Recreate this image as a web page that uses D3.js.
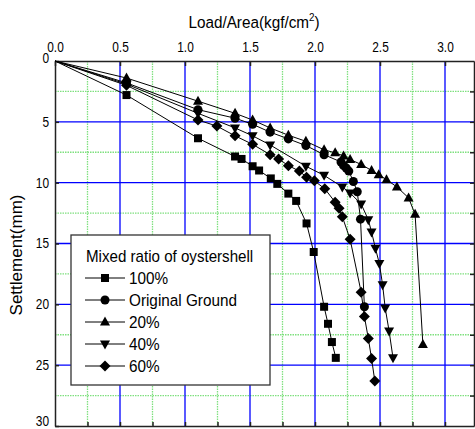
<!DOCTYPE html>
<html>
<head>
<meta charset="utf-8">
<script src="https://cdn.jsdelivr.net/npm/d3@7"></script>
<style>
    body { margin: 0; background: #fff; }
    text { font-family: "Liberation Sans", Arial, sans-serif; fill: #000; }
</style>
</head>
<body>
<div id="chart"></div>
<script>
// load (kgf/cm2) vs settlement (mm)
const load100 = [0, 0.55, 1.1, 1.385, 1.435, 1.52, 1.57, 1.66, 1.71, 1.795, 1.855, 1.935, 1.99, 2.07, 2.10, 2.13, 2.16];
const settle100 = [0, 2.8, 6.35, 7.85, 8.05, 8.65, 9.0, 9.65, 10.1, 10.9, 11.5, 13.35, 15.7, 20.2, 21.6, 23.1, 24.4];

const loadOrig = [0, 0.55, 1.1, 1.385, 1.52, 1.655, 1.795, 1.93, 2.07, 2.2, 2.22, 2.24, 2.26, 2.295, 2.325, 2.35, 2.38];
const settleOrig = [0, 1.8, 4.0, 4.7, 5.2, 5.85, 6.4, 6.95, 7.7, 8.3, 8.6, 8.8, 9.05, 9.9, 10.75, 13.0, 20.2];

const load20 = [0, 0.55, 1.1, 1.385, 1.52, 1.655, 1.795, 1.93, 2.07, 2.155, 2.22, 2.27, 2.355, 2.435, 2.49, 2.55, 2.63, 2.72, 2.77, 2.83];
const settle20 = [0, 1.4, 3.3, 4.3, 4.85, 5.5, 6.1, 6.6, 7.3, 7.55, 7.8, 8.1, 8.5, 9.0, 9.35, 9.75, 10.35, 11.25, 12.6, 23.3];

const load40 = [0, 0.55, 1.1, 1.385, 1.52, 1.655, 1.93, 2.07, 2.21, 2.27, 2.355, 2.41, 2.435, 2.465, 2.495, 2.52, 2.54, 2.57, 2.6];
const settle40 = [0, 1.9, 4.3, 5.5, 6.15, 6.9, 8.65, 9.4, 10.35, 10.85, 11.75, 13.05, 14.05, 15.4, 16.65, 18.4, 20.3, 22.2, 24.4];

const load60 = [0, 0.55, 1.1, 1.245, 1.385, 1.52, 1.655, 1.72, 1.795, 1.88, 1.935, 1.995, 2.075, 2.155, 2.185, 2.21, 2.27, 2.355, 2.38, 2.41, 2.435, 2.46];
const settle60 = [0, 2.0, 4.85, 5.35, 6.15, 6.85, 7.7, 8.05, 8.6, 9.05, 9.55, 9.85, 10.5, 11.6, 12.1, 12.8, 14.65, 19.0, 21.0, 22.8, 24.45, 26.3];

const seriesNames = ["100%", "Original Ground", "20%", "40%", "60%"];
const seriesMarks = ["square", "circle", "up", "down", "diamond"];

const xTicks = [0, 0.5, 1.0, 1.5, 2.0, 2.5, 3.0];
const yTicks = [0, 5, 10, 15, 20, 25, 30];

let width = 475, height = 429;
let plot = {left: 55, top: 61, right: 474, bottom: 426};

let svg = d3.select("#chart").append("svg")
    .attr("width", width)
    .attr("height", height);

// 130 px per kgf/cm2 in the picture, the frame is cut at the window edge
let x = d3.scaleLinear()
    .domain([0, (plot.right - plot.left) / 130])
    .range([plot.left, plot.right]);
let y = d3.scaleLinear()
    .domain([0, 30])
    .range([plot.top, plot.bottom]);

// grid: green dotted minor, blue major
let minorX = d3.range(0.25, 3.3, 0.5);
let minorY = d3.range(2.5, 30, 5);
let grid = svg.append("g");
grid.selectAll(".mx").data(minorX).enter().append("line")
    .attr("x1", d => x(d)).attr("x2", d => x(d))
    .attr("y1", plot.top).attr("y2", plot.bottom)
    .style("stroke", "#7fe07f").style("stroke-width", 1.3).style("stroke-dasharray", "1.5,1");
grid.selectAll(".my").data(minorY).enter().append("line")
    .attr("y1", d => y(d)).attr("y2", d => y(d))
    .attr("x1", plot.left).attr("x2", plot.right)
    .style("stroke", "#7fe07f").style("stroke-width", 1.3).style("stroke-dasharray", "1.5,1");
grid.selectAll(".bx").data(xTicks.slice(1)).enter().append("line")
    .attr("x1", d => x(d)).attr("x2", d => x(d))
    .attr("y1", plot.top).attr("y2", plot.bottom)
    .style("stroke", "#0000ff").style("stroke-width", 1.3);
grid.selectAll(".by").data(yTicks.slice(1, -1)).enter().append("line")
    .attr("y1", d => y(d)).attr("y2", d => y(d))
    .attr("x1", plot.left).attr("x2", plot.right)
    .style("stroke", "#0000ff").style("stroke-width", 1.3);

// axes
let topAxis = d3.axisTop(x).tickValues(xTicks).tickFormat(d3.format(".1f")).tickSizeInner(-5).tickSizeOuter(0).tickPadding(9);
let botAxis = d3.axisBottom(x).tickValues(d3.range(0.25, 3.3, 0.25)).tickFormat("").tickSizeInner(-4).tickSizeOuter(0);
let leftAxis = d3.axisLeft(y).tickValues(yTicks).tickFormat(d3.format("d")).tickSizeInner(-4).tickSizeOuter(0).tickPadding(7);
let rightAxis = d3.axisRight(y).tickValues(d3.range(2.5, 30, 2.5)).tickFormat("").tickSizeInner(-4).tickSizeOuter(0);

function styleAxis(g) {
    g.select(".domain").style("stroke", "#222").style("stroke-width", 1.5);
    g.selectAll(".tick line").style("stroke", "#222").style("stroke-width", 1.5);
    g.selectAll("text")
        .style("font-size", "14px")
        .style("font-family", "'Liberation Sans', Arial, sans-serif")
        .attr("transform", "scale(0.85,1)");
}
svg.append("g").attr("transform", `translate(0,${plot.top})`).call(topAxis).call(styleAxis);
svg.append("g").attr("transform", `translate(0,${plot.bottom})`).call(botAxis).call(styleAxis);
let leftG = svg.append("g").attr("transform", `translate(${plot.left},0)`).call(leftAxis).call(styleAxis);
// "0" sits a little above the frame, "30" pulled up so it stays inside the window
leftG.selectAll(".tick text").attr("dy", d => d === 0 ? "0.1em" : (d === 30 ? "-0.07em" : "0.32em"));
svg.append("g").attr("transform", `translate(${plot.right},0)`).call(rightAxis).call(styleAxis);

// titles (squeezed, the original uses a narrow face)
svg.append("text")
    .attr("transform", "translate(254,28) scale(0.9,1)")
    .attr("text-anchor", "middle")
    .style("font-size", "17px")
    .html('Load/Area(kgf/cm<tspan dy="-7" font-size="11px">2</tspan><tspan dy="7">)</tspan>');
svg.append("text")
    .attr("transform", "translate(22,255) rotate(-90)")
    .attr("text-anchor", "middle")
    .style("font-size", "17px")
    .text("Settlement(mm)");

// markers
function markerPath(kind) {
    if (kind === "square") return "M-4,-4H4V4H-4Z";
    if (kind === "circle") return d3.symbol(d3.symbolCircle, 64)();
    if (kind === "up") return "M0,-5.5L5,3.5H-5Z";
    if (kind === "down") return "M0,5.5L5,-3.5H-5Z";
    return "M0,-5.5L5.5,0L0,5.5L-5.5,0Z";
}

let loads = [load100, loadOrig, load20, load40, load60];
let settles = [settle100, settleOrig, settle20, settle40, settle60];

let line = d3.line().x(d => x(d[0])).y(d => y(d[1]));

for (let i = 0; i < loads.length; i++) {
    let pts = loads[i].map((v, j) => [v, settles[i][j]]);
    svg.append("path")
        .datum(pts)
        .attr("d", line)
        .style("fill", "none")
        .style("stroke", "#000")
        .style("stroke-width", 1);
    svg.selectAll(".m" + i)
        .data(pts.slice(1))
        .enter()
        .append("path")
        .attr("transform", d => `translate(${x(d[0])},${y(d[1])})`)
        .attr("d", markerPath(seriesMarks[i]))
        .style("fill", "#000");
}

// legend
let legend = svg.append("g");
legend.append("rect")
    .attr("x", 71).attr("y", 235)
    .attr("width", 199).attr("height", 150)
    .style("fill", "#fff")
    .style("stroke", "#333")
    .style("stroke-width", 1.3);
legend.append("text")
    .attr("transform", "translate(86,262) scale(0.89,1)")
    .style("font-size", "17px")
    .text("Mixed ratio of oystershell");
seriesNames.forEach(function (name, i) {
    let cy = 278 + i * 22;
    legend.append("line")
        .attr("x1", 85).attr("x2", 125)
        .attr("y1", cy).attr("y2", cy)
        .style("stroke", "#000").style("stroke-width", 1);
    legend.append("path")
        .attr("transform", `translate(105,${cy})`)
        .attr("d", markerPath(seriesMarks[i]))
        .style("fill", "#000");
    legend.append("text")
        .attr("transform", `translate(129,${cy + 6}) scale(0.9,1)`)
        .style("font-size", "17px")
        .text(name);
});
</script>
</body>
</html>
